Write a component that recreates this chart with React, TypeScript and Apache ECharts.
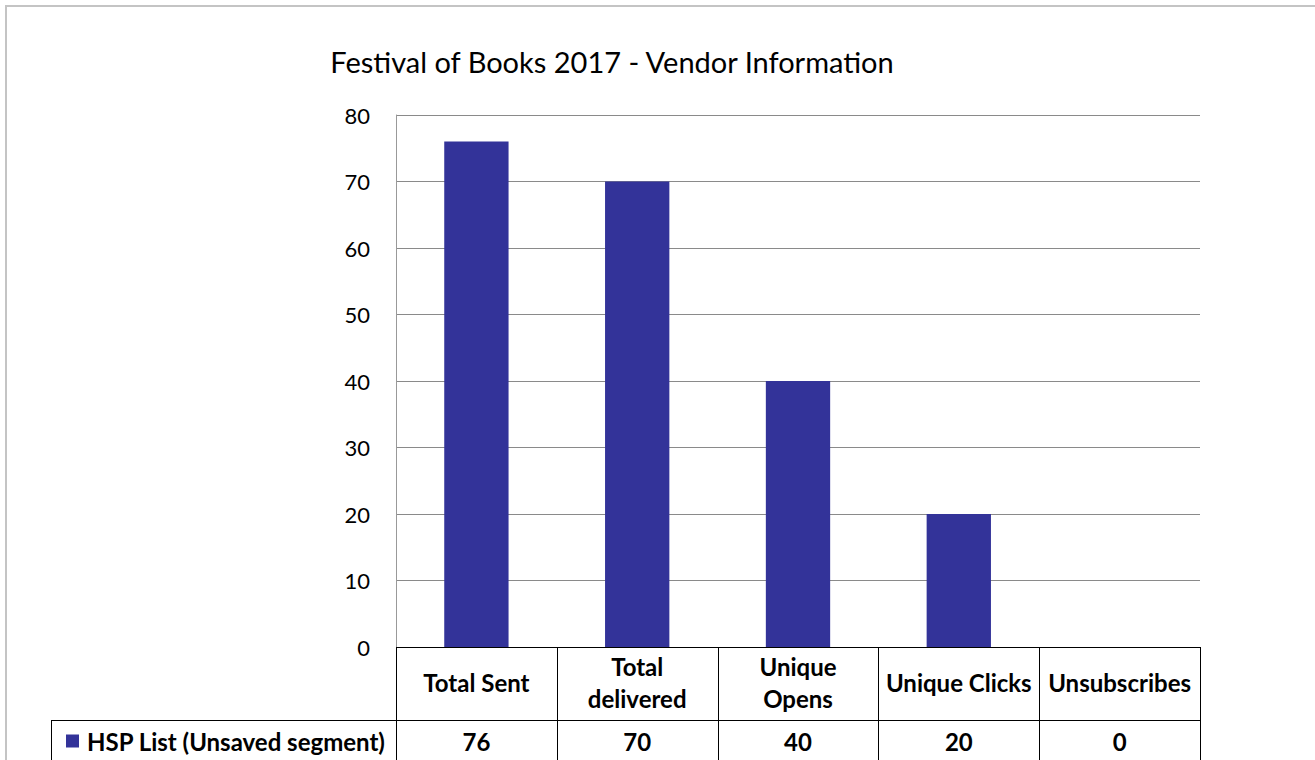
import React, { useEffect, useRef } from "react";
import * as echarts from "echarts";

const TITLE = "Festival of Books 2017 - Vendor Information";
const SERIES_NAME = "HSP List (Unsaved segment)";
const categories = ["Total Sent", "Total\ndelivered", "Unique\nOpens", "Unique Clicks", "Unsubscribes"];
const values = [76, 70, 40, 20, 0];
const Y_MIN = 0;
const Y_MAX = 80;
const Y_INTERVAL = 10;

const FONT = "Lato, 'Open Sans', sans-serif";
const GRID_LEFT = 396;
const GRID_TOP = 115;
const GRID_RIGHT_X = 1200;
const GRID_BOTTOM_Y = 647;
const ROW_SPLIT_Y = 720;
const LEGEND_LEFT = 51;
const W = 1315;
const H = 760;

export default function App() {
  const ref = useRef<HTMLDivElement>(null);
  useEffect(() => {
    if (!ref.current) return;
    const chart = echarts.init(ref.current, undefined, { renderer: "svg" });
    const n = categories.length;
    const colW = (GRID_RIGHT_X - GRID_LEFT) / n;
    const lines: any[] = [];
    const black = { stroke: "#000", lineWidth: 1 };
    for (let i = 0; i <= n; i++) {
      const x = Math.round(GRID_LEFT + i * colW) + 0.5;
      lines.push({ type: "line", shape: { x1: x, y1: GRID_BOTTOM_Y, x2: x, y2: H + 10 }, style: black });
    }
    lines.push({ type: "line", shape: { x1: GRID_LEFT, y1: GRID_BOTTOM_Y + 0.5, x2: GRID_RIGHT_X + 1, y2: GRID_BOTTOM_Y + 0.5 }, style: black });
    lines.push({ type: "line", shape: { x1: LEGEND_LEFT + 0.5, y1: ROW_SPLIT_Y + 0.5, x2: GRID_RIGHT_X + 1, y2: ROW_SPLIT_Y + 0.5 }, style: black });
    lines.push({ type: "line", shape: { x1: LEGEND_LEFT + 0.5, y1: ROW_SPLIT_Y, x2: LEGEND_LEFT + 0.5, y2: H + 10 }, style: black });

    chart.setOption({
      animation: false,
      backgroundColor: "#fff",
      textStyle: { fontFamily: FONT },
      grid: {
        left: GRID_LEFT,
        top: GRID_TOP,
        width: GRID_RIGHT_X - GRID_LEFT,
        height: GRID_BOTTOM_Y - GRID_TOP,
        containLabel: false,
      },
      legend: {
        data: [SERIES_NAME],
        left: 61,
        top: 724,
        icon: "rect",
        itemWidth: 13,
        itemHeight: 13,
        itemGap: 5,
        textStyle: { fontFamily: FONT, fontSize: 24, fontWeight: "bold", color: "#000", padding: [0, 0, 0, 3] },
      },
      xAxis: [
        {
          type: "category",
          data: categories,
          position: "bottom",
          axisLine: { show: false },
          axisTick: { show: false },
          splitLine: { show: false },
          axisLabel: {
            interval: 0,
            margin: 35,
            verticalAlign: "middle",
            fontFamily: FONT,
            fontSize: 24,
            fontWeight: "bold",
            color: "#000",
            lineHeight: 32,
            align: "center",
          },
        },
        {
          type: "category",
          data: values.map(String),
          position: "bottom",
          axisLine: { show: false },
          axisTick: { show: false },
          splitLine: { show: false },
          axisLabel: {
            interval: 0,
            margin: 94,
            verticalAlign: "middle",
            fontFamily: FONT,
            fontSize: 24,
            fontWeight: "bold",
            color: "#000",
          },
        },
      ],
      yAxis: {
        type: "value",
        min: Y_MIN,
        max: Y_MAX,
        interval: Y_INTERVAL,
        axisLine: { show: true, lineStyle: { color: "#999", width: 1 } },
        axisTick: { show: false },
        splitLine: { show: true, lineStyle: { color: "#8a8a8a", width: 1 } },
        axisLabel: { margin: 26, fontFamily: FONT, fontSize: 22, color: "#000" },
      },
      series: [
        {
          name: SERIES_NAME,
          type: "bar",
          data: values,
          barWidth: "40%",
          itemStyle: { color: "#333399" },
          xAxisIndex: 0,
        },
      ],
      graphic: [
        {
          type: "rect",
          shape: { x: 6, y: 6, width: W + 20, height: H + 20 },
          style: { fill: "none", stroke: "#c4c4c4", lineWidth: 2 },
          z: 100,
        },
        {
          type: "text",
          x: 612,
          y: 61,
          style: {
            text: TITLE,
            fontFamily: FONT,
            fontSize: 29,
            fill: "#000",
            textAlign: "center",
            textVerticalAlign: "middle",
          },
        },
        ...lines.map((l) => ({ ...l, z: 50 })),
      ],
    });
    return () => chart.dispose();
  }, []);
  return (
    <div
      ref={ref}
      style={{ position: "fixed", left: 0, top: 0, width: W, height: H, background: "#fff" }}
    />
  );
}
